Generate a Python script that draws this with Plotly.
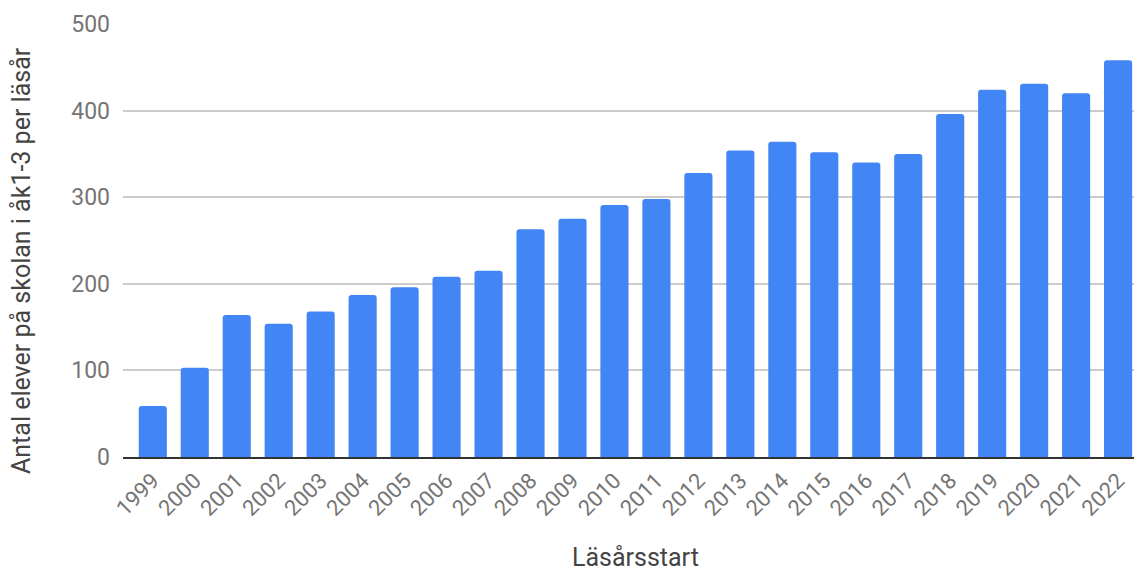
import plotly.graph_objects as go

years = [str(y) for y in range(1999, 2023)]
values = [59, 103, 164, 154, 168, 187, 196, 208, 215, 263, 275, 291, 298, 328,
          354, 364, 352, 340, 350, 396, 424, 431, 420, 458]
x_title = "Läsårsstart"
y_title = "Antal elever på skolan i åk1-3 per läsår"

fig = go.Figure(go.Bar(x=years, y=values, marker_color="#4285F4", marker_line_width=0))

fig.update_layout(
    width=1134, height=565,
    margin=dict(l=115, r=0, t=16, b=116),
    plot_bgcolor="white", paper_bgcolor="white",
    bargap=0.33,
    barcornerradius=3,
    font=dict(family="Roboto", color="#757575"),
    showlegend=False,
)
fig.update_xaxes(
    type="category", range=[-0.71, 23.57], automargin=False,
    tickangle=-45, tickfont=dict(size=22, color="#757575"),
    showline=True, linecolor="#333333", linewidth=2,
    showgrid=False, ticks="",
)
fig.update_yaxes(
    range=[0, 500], tickvals=[0, 100, 200, 300, 400, 500], automargin=False,
    tickfont=dict(size=23, color="#757575"),
    showgrid=True, gridcolor="#cccccc", gridwidth=1.5,
    zeroline=False, ticks="", ticklabelstandoff=12,
)
fig.add_annotation(text=x_title, xref="paper", yref="paper", x=0.5034, y=-0.231,
                   xanchor="center", yanchor="middle", showarrow=False, borderpad=0,
                   font=dict(size=25, color="#444444"))
fig.add_annotation(text=y_title, xref="paper", yref="paper", x=-0.0991, y=0.4527,
                   xanchor="center", yanchor="middle", showarrow=False, textangle=-90,
                   borderpad=0, font=dict(size=25, color="#444444"))

fig.write_html("out.html")
